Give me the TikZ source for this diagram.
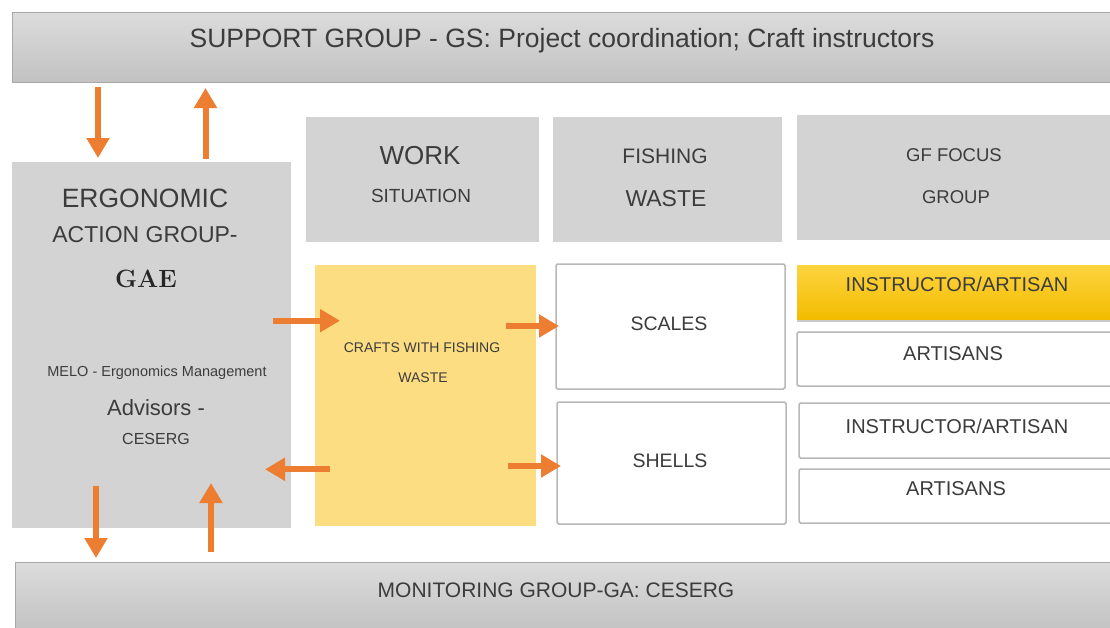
\documentclass[tikz,border=0pt]{standalone}
\usepackage{fontspec}
\newfontfamily\sansf{Liberation Sans}
\usetikzlibrary{arrows.meta,shadows}
\definecolor{boxgray}{HTML}{D3D3D3}
\definecolor{bargrayA}{HTML}{DCDCDC}
\definecolor{bargrayB}{HTML}{C2C2C2}
\definecolor{baredge}{HTML}{A8A8A8}
\definecolor{craftyellow}{HTML}{FDDD82}
\definecolor{goldA}{HTML}{FDD43F}
\definecolor{goldB}{HTML}{F3BC00}
\definecolor{whiteedge}{HTML}{B8B8B8}
\definecolor{arroworange}{HTML}{ED7D31}
\definecolor{txtgray}{HTML}{3C3C3C}
\tikzset{
  box/.style={anchor=north west, inner sep=0pt, outer sep=0pt},
  graybox/.style={box, fill=boxgray, draw=none},
  barbox/.style={box, top color=bargrayA, bottom color=bargrayB, draw=baredge, line width=0.8pt},
  whitebox/.style={box, fill=white, draw=whiteedge, line width=1.5pt, rounded corners=1.5pt},
  goldbox/.style={box, top color=goldA, bottom color=goldB, draw=none,
    drop shadow={shadow xshift=0pt, shadow yshift=-2.5pt, opacity=0.35, fill=black!60}},
  txt/.style={inner sep=0pt, anchor=base, text=txtgray, font=\sansf\fontsize{#1pt}{#1pt}\selectfont, yshift=-0.358*#1pt},
  serif/.style={inner sep=0pt, anchor=base, text=black!85, font=\rmfamily\bfseries\fontsize{#1pt}{#1pt}\selectfont, yshift=-0.343*#1pt},
  orarrow/.style={draw=arroworange, line width=6pt, -{Triangle[length=20pt,width=22pt]}},
}
\begin{document}
\begin{tikzpicture}[x=1pt,y=-1pt]
\useasboundingbox (0,0) rectangle (1110,627);
\clip (0,0) rectangle (1110,627);
\fill[white] (0,0) rectangle (1110,627);

% boxes
\node[barbox, minimum width=1110pt, minimum height=70pt] (support) at (12,12) {};
\node[graybox, minimum width=279pt, minimum height=366pt] (gae) at (12,162) {};
\node[graybox, minimum width=233pt, minimum height=125pt] (work) at (306,117) {};
\node[graybox, minimum width=229pt, minimum height=125pt] (fish) at (553,117) {};
\node[graybox, minimum width=330pt, minimum height=125pt] (gf) at (797,115) {};
\node[box, fill=craftyellow, minimum width=221pt, minimum height=261pt] (craft) at (315,265) {};
\node[whitebox, minimum width=229pt, minimum height=125pt] (scales) at (556,264) {};
\node[whitebox, minimum width=229pt, minimum height=122pt] (shells) at (557,402) {};
\node[goldbox, minimum width=330pt, minimum height=54pt] (instrA) at (797,265) {};
\node[whitebox, minimum width=330pt, minimum height=54pt] (artA) at (797,332) {};
\node[whitebox, minimum width=330pt, minimum height=55pt] (instrB) at (799,403) {};
\node[whitebox, minimum width=330pt, minimum height=54pt] (artB) at (799,469) {};
\node[barbox, minimum width=1110pt, minimum height=70pt] (monitor) at (15,562) {};

% texts
\node[txt=26.5] (tsupport) at (562,37.7) {SUPPORT GROUP - GS: Project coordination; Craft instructors};
\node[txt=26.5] (tergo) at (145,198) {ERGONOMIC};
\node[txt=23] (taction) at (145,234) {ACTION GROUP-};
\node[serif=25] (tgae) at (146,279) {GAE};
\node[txt=14.5] (tmelo) at (157,371) {MELO - Ergonomics Management};
\node[txt=22] (tadv) at (156,408) {Advisors -};
\node[txt=16] (tceserg) at (156,439) {CESERG};
\node[txt=26] (twork) at (420,155.5) {WORK};
\node[txt=19] (tsit) at (421,196) {SITUATION};
\node[txt=21] (tfishing) at (665,155.7) {FISHING};
\node[txt=23] (twaste) at (666,198) {WASTE};
\node[txt=18.5] (tgf) at (954,155.3) {GF FOCUS};
\node[txt=18.5] (tgroup) at (956,196.7) {GROUP};
\node[txt=14] (tcrafts) at (422,347) {CRAFTS WITH FISHING};
\node[txt=14] (tcwaste) at (423,377) {WASTE};
\node[txt=19.5] (tscales) at (669,323.7) {SCALES};
\node[txt=19.5] (tshells) at (670,460.7) {SHELLS};
\node[txt=20] (tinstrA) at (957,284) {INSTRUCTOR/ARTISAN};
\node[txt=20] (tartA) at (953,353.3) {ARTISANS};
\node[txt=20] (tinstrB) at (957,426) {INSTRUCTOR/ARTISAN};
\node[txt=20] (tartB) at (956,488.3) {ARTISANS};
\node[txt=21] (tmonitor) at (556,590) {MONITORING GROUP-GA: CESERG};

% arrow end points
\coordinate (a1s) at (98,87);   \coordinate (a1e) at (98,158);
\coordinate (a2s) at (205.5,159); \coordinate (a2e) at (205.5,88);
\coordinate (a3s) at (273,320.7); \coordinate (a3e) at (340,320.7);
\coordinate (a4s) at (506,326); \coordinate (a4e) at (559,326);
\coordinate (a5s) at (330,469.3); \coordinate (a5e) at (265,469.3);
\coordinate (a6s) at (508,466); \coordinate (a6e) at (561,466);
\coordinate (a7s) at (96,486); \coordinate (a7e) at (96,558);
\coordinate (a8s) at (211,552); \coordinate (a8e) at (211,483);

\draw[orarrow] (a1s) -- (a1e);
\draw[orarrow] (a2s) -- (a2e);
\draw[orarrow] (a3s) -- (a3e);
\draw[orarrow] (a4s) -- (a4e);
\draw[orarrow] (a5s) -- (a5e);
\draw[orarrow] (a6s) -- (a6e);
\draw[orarrow] (a7s) -- (a7e);
\draw[orarrow] (a8s) -- (a8e);
\end{tikzpicture}
\end{document}
